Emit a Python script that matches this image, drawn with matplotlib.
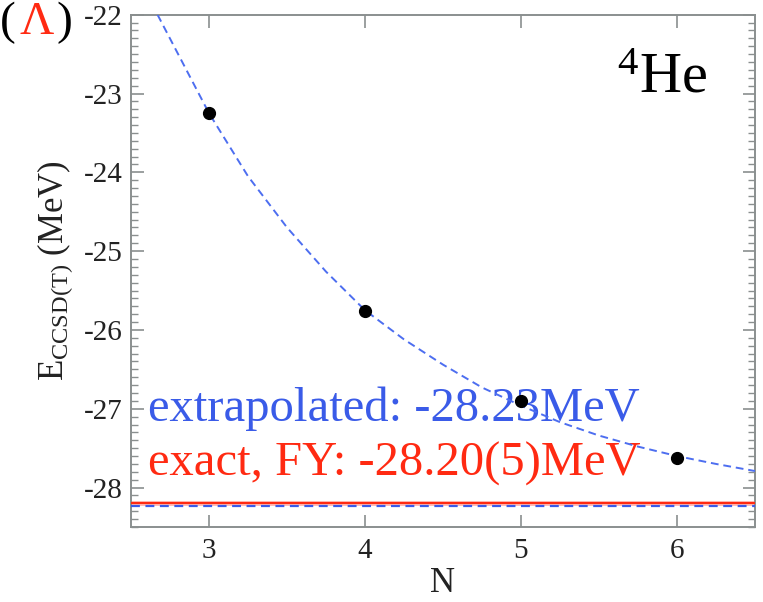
#plot.py


#COMMENT: Imports.

import numpy as np;
import matplotlib.pyplot as plt;
from matplotlib.ticker import MultipleLocator;


#COMMENT: Data.

n_points = [3, 4, 5, 6];
e_points = [-23.25, -25.76, -26.90, -27.62];

#COMMENT: Points of the dashed fit curve.

n_curve = [2.67, 3.0, 3.25, 3.5, 3.75, 4.0, 4.25, 4.5, 4.75, 5.0, 5.25, 5.5, 5.75, 6.0, 6.25, 6.5];
e_curve = [-22.00, -23.25, -24.05, -24.70, -25.26, -25.75, -26.12, -26.44, -26.73, -26.96, -27.17, -27.34, -27.48, -27.60, -27.70, -27.79];

e_exact = -28.20;
e_extrap = -28.23;

x_ticks = [3, 4, 5, 6];
y_ticks = [-28, -27, -26, -25, -24, -23, -22];


#COMMENT: Fonts.

plt.rcParams['font.family'] = ['Liberation Serif', 'DejaVu Serif'];
plt.rcParams['mathtext.fontset'] = 'custom';
plt.rcParams['mathtext.rm'] = 'Liberation Serif';
plt.rcParams['mathtext.it'] = 'Liberation Serif:italic';
plt.rcParams['axes.unicode_minus'] = False;

grey = '#8a8f8f';
blue = '#3a5be8';
red = '#ff2a12';

fig = plt.figure(figsize = (7.63, 6.02), dpi = 100);
ax = fig.add_axes([0.1717, 0.1246, 0.9895 - 0.1717, 0.9756 - 0.1246]);

#COMMENT: Reference lines.

ax.axhline(e_exact, color = '#ffb8b0', linewidth = 3.5, zorder = 2);
ax.axhline(e_exact, color = red, linewidth = 1.5, zorder = 3);
ax.axhline(e_extrap, color = blue, linewidth = 1.6, linestyle = (0, (4, 2.5)), zorder = 3);

#COMMENT: Fit curve and points.

ax.plot(n_curve, e_curve, color = '#4d6ef0', linewidth = 1.4, linestyle = (0, (4, 2.5)), zorder = 4);
ax.plot(n_points, e_points, 'o', color = 'black', markersize = 8.5, zorder = 5);

#COMMENT: Axes, ticks.

ax.set_xlim(2.5, 6.5);
ax.set_ylim(-28.5, -22);
ax.set_xticks(x_ticks);
ax.set_yticks(y_ticks);
ax.yaxis.set_minor_locator(MultipleLocator(0.1));

ax.tick_params(axis = 'both', which = 'major', direction = 'in', length = 9, width = 1.2, color = grey,
               labelsize = 21, labelcolor = '#222222', top = True, right = True, pad = 6);
ax.tick_params(axis = 'y', which = 'minor', direction = 'in', length = 5, width = 1.0, color = grey, right = True);
ax.tick_params(axis = 'x', pad = 8);

for spine in ax.spines.values():
    spine.set_color(grey);
    spine.set_linewidth(1.4);

ax.set_xlabel('N', fontsize = 25, labelpad = 2, color = '#222222');
ax.set_ylabel(r'E$_{\rm CCSD(T)}$ (MeV)', fontsize = 25, labelpad = 6, color = '#222222');

#COMMENT: Labels inside the plot.

ax.text(0.923, 0.848, r'$^{4}$He', transform = ax.transAxes, ha = 'right', va = 'baseline', fontsize = 42, color = 'black');
ax.text(2.61, -27.16, 'extrapolated: -28.23MeV', ha = 'left', va = 'baseline', fontsize = 35, color = blue);
ax.text(2.61, -27.85, 'exact, FY: -28.20(5)MeV', ha = 'left', va = 'baseline', fontsize = 35, color = red);

#COMMENT: Panel label (Λ) in the corner.

fig.text(0.0 / 763, 1 - 2 / 602, '(', ha = 'left', va = 'top', fontsize = 34, color = 'black');
fig.text(19 / 763, 1 - 2 / 602, 'Λ', ha = 'left', va = 'top', fontsize = 34, color = red);
fig.text(56 / 763, 1 - 2 / 602, ')', ha = 'left', va = 'top', fontsize = 34, color = 'black');

#COMMENT: Save the image and clean up.

plt.savefig('out.png', dpi = 100);
plt.close();
